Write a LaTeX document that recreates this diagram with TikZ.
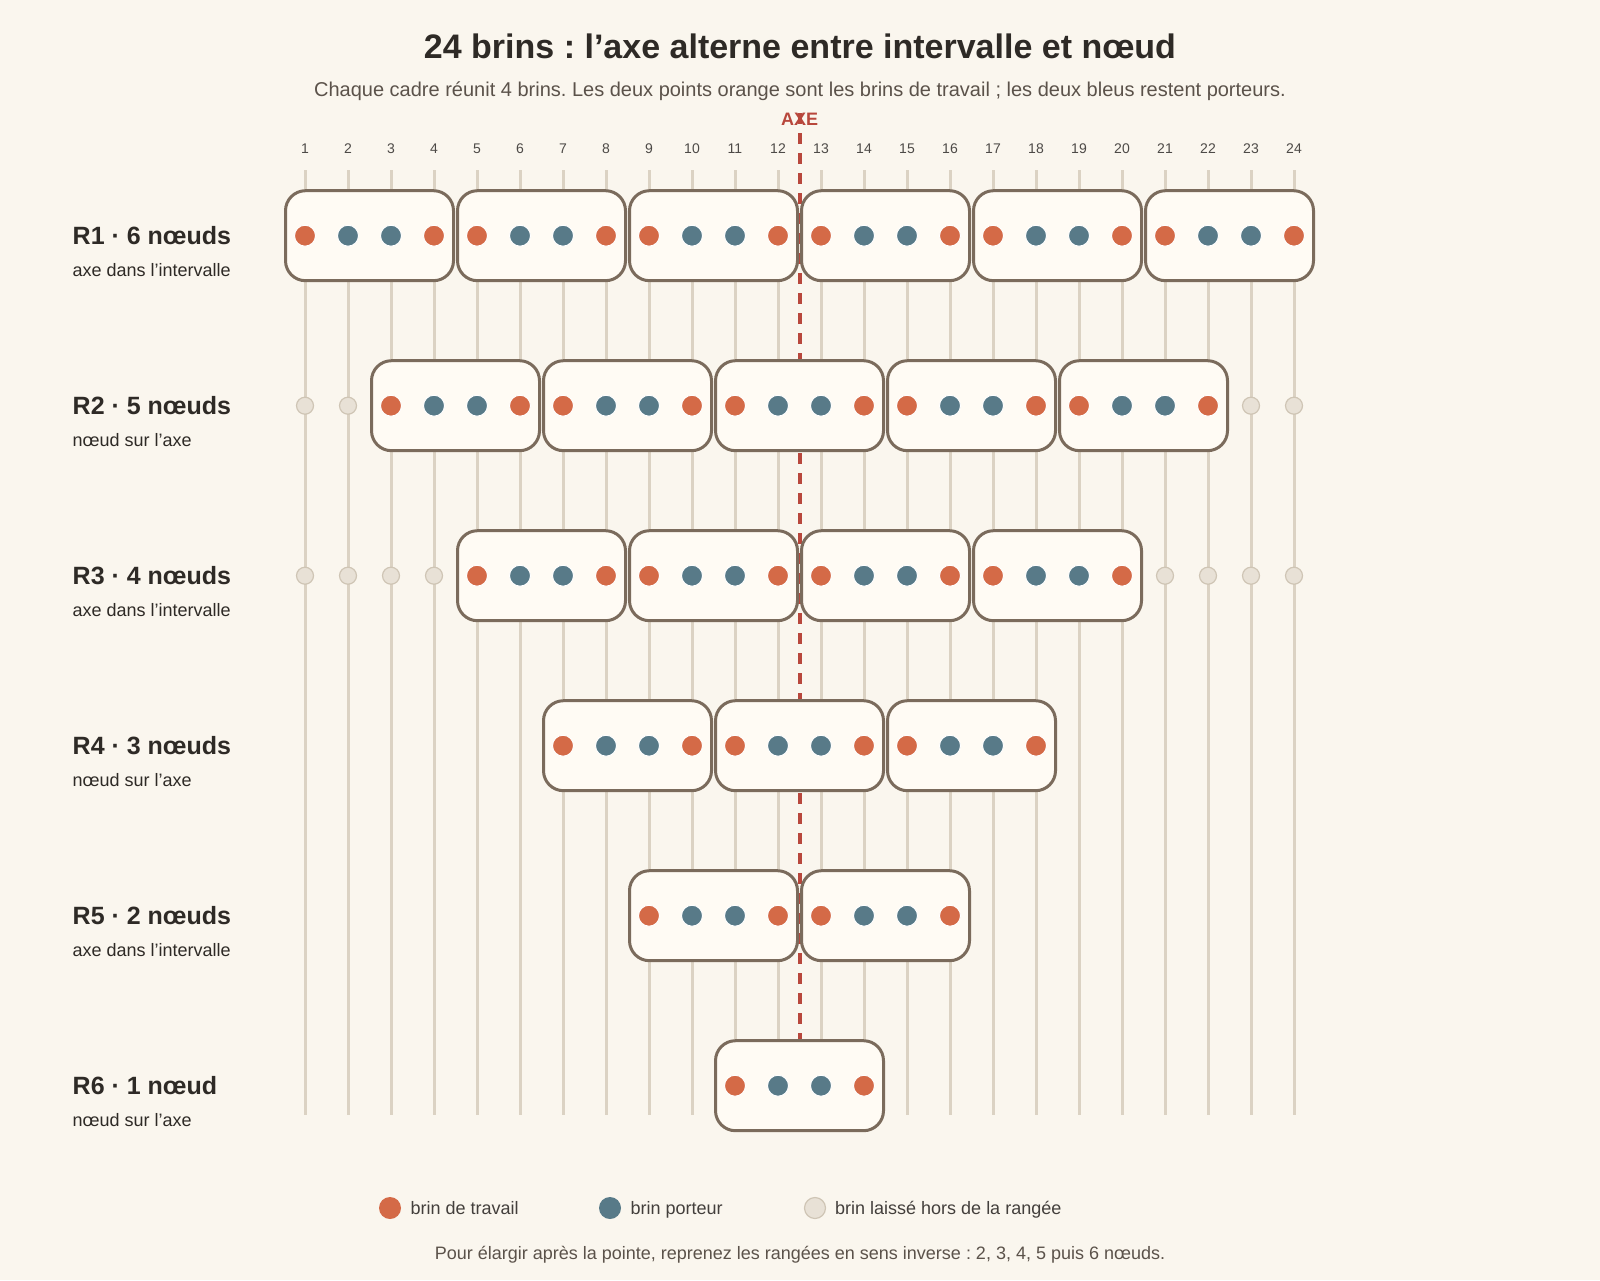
\documentclass[tikz,border=0pt]{standalone}
\usepackage{fontspec}
\setmainfont{Liberation Sans}
\frenchspacing
\definecolor{bgc}{HTML}{FAF6EE}
\definecolor{boxfill}{HTML}{FFFBF4}
\definecolor{boxline}{HTML}{7B6B5C}
\definecolor{orangec}{HTML}{D46A47}
\definecolor{bluec}{HTML}{587A88}
\definecolor{greyfill}{HTML}{E8E1D6}
\definecolor{greyline}{HTML}{CFC5B5}
\definecolor{strandc}{HTML}{DBD2C3}
\definecolor{axec}{HTML}{B8473C}
\definecolor{darktext}{HTML}{2E2A26}
\definecolor{softtext}{HTML}{5B524A}
\begin{document}
\begin{tikzpicture}[x=1pt,y=-1pt,
  strand/.style={draw=strandc,line width=3pt},
  axisline/.style={draw=axec,line width=4pt,dash pattern=on 11pt off 9pt},
  boxst/.style={draw=boxline,fill=boxfill,line width=3pt,rounded corners=20pt,minimum width=168pt,minimum height=90pt,inner sep=0pt},
  wdot/.style={circle,fill=orangec,draw=white,line width=1pt,minimum size=21pt,inner sep=0pt},
  pdot/.style={circle,fill=bluec,draw=white,line width=1pt,minimum size=21pt,inner sep=0pt},
  gdot/.style={circle,fill=greyfill,draw=greyline,line width=1.2pt,minimum size=17pt,inner sep=0pt},
  numlab/.style={text=darktext!85,font=\fontsize{14}{16}\selectfont,inner sep=0pt},
  axelab/.style={text=axec,font=\fontsize{18}{20}\selectfont\bfseries,inner sep=0pt},
  rowbig/.style={text=darktext,font=\fontsize{25}{28}\selectfont\bfseries,anchor=west,inner sep=0pt},
  rowsmall/.style={text=darktext,font=\fontsize{18}{20}\selectfont,anchor=west,inner sep=0pt},
  titlest/.style={text=darktext,font=\fontsize{34}{38}\selectfont\bfseries,inner sep=0pt},
  subst/.style={text=softtext,font=\fontsize{20}{22}\selectfont,inner sep=0pt},
  legtext/.style={text=darktext!90,font=\fontsize{18}{21}\selectfont,anchor=base west,inner sep=0pt},
  footst/.style={text=softtext,font=\fontsize{18}{20}\selectfont,inner sep=0pt}
]
\fill[bgc] (0,0) rectangle (1600,1280);
\useasboundingbox (0,0) rectangle (1600,1280);

% title
\node[titlest] (title) at (800,46) {24 brins : l’axe alterne entre intervalle et nœud};
\node[subst] (subtitle) at (800,91) {Chaque cadre réunit 4 brins. Les deux points orange sont les brins de travail ; les deux bleus restent porteurs.};

% strands
\foreach \i in {1,...,24}{
  \pgfmathsetmacro\xx{305+43*(\i-1)}
  \coordinate (t\i) at (\xx,170);
  \coordinate (b\i) at (\xx,1115);
  \draw[strand] (t\i) -- (b\i);
  \node[numlab] (n\i) at (\xx,149) {\i};
}

% axis
\node[axelab] (axe) at (799.5,119.5) {AXE};
\coordinate (axtop) at (799.5,113);
\coordinate (axbot) at (799.5,1040);
\draw[axisline] (axtop) -- (axbot);

% rows
\foreach \k/\big/\small in {1/{R1 · 6 nœuds}/{axe dans l’intervalle},
                            2/{R2 · 5 nœuds}/{nœud sur l’axe},
                            3/{R3 · 4 nœuds}/{axe dans l’intervalle},
                            4/{R4 · 3 nœuds}/{nœud sur l’axe},
                            5/{R5 · 2 nœuds}/{axe dans l’intervalle},
                            6/{R6 · 1 nœud}/{nœud sur l’axe}}{
  \pgfmathsetmacro\yy{235.7+170*(\k-1)}
  \pgfmathtruncatemacro\s{1+2*(\k-1)}
  \pgfmathtruncatemacro\ng{7-\k}
  \pgfmathtruncatemacro\e{\s+4*\ng-1}
  \node[rowbig] (rl\k) at (72.5,\yy) {\big};
  \node[rowsmall] (rs\k) at (72.5,\yy+34) {\small};
  \foreach \g in {1,...,\ng}{
    \pgfmathsetmacro\bx{305+43*(\s-1+4*(\g-1)+1.5)}
    \node[boxst] (box\k-\g) at (\bx,\yy) {};
    \foreach \j/\c in {0/wdot,1/pdot,2/pdot,3/wdot}{
      \pgfmathtruncatemacro\st{\s+4*(\g-1)+\j}
      \pgfmathsetmacro\dx{305+43*(\st-1)}
      \node[\c] (d\k-\st) at (\dx,\yy) {};
    }
  }
  \ifnum\k<4
    \ifnum\k>1
      \foreach \st in {1,...,24}{
        \pgfmathsetmacro\dx{305+43*(\st-1)}
        \ifnum\st<\s \node[gdot] (g\k-\st) at (\dx,\yy) {}; \fi
        \ifnum\st>\e \node[gdot] (g\k-\st) at (\dx,\yy) {}; \fi
      }
    \fi
  \fi
}

% legend
\node[wdot,draw=none,minimum size=22pt] (lg1) at (390,1208) {};
\node[legtext] (lt1) at (410.5,1214.5) {brin de travail};
\node[pdot,draw=none,minimum size=22pt] (lg2) at (610,1208) {};
\node[legtext] (lt2) at (630.5,1214.5) {brin porteur};
\node[gdot,minimum size=21pt] (lg3) at (815,1208) {};
\node[legtext] (lt3) at (835,1214.5) {brin laissé hors de la rangée};

% footer
\node[footst] (foot) at (800,1255) {Pour élargir après la pointe, reprenez les rangées en sens inverse : 2, 3, 4, 5 puis 6 nœuds.};
\end{tikzpicture}
\end{document}
